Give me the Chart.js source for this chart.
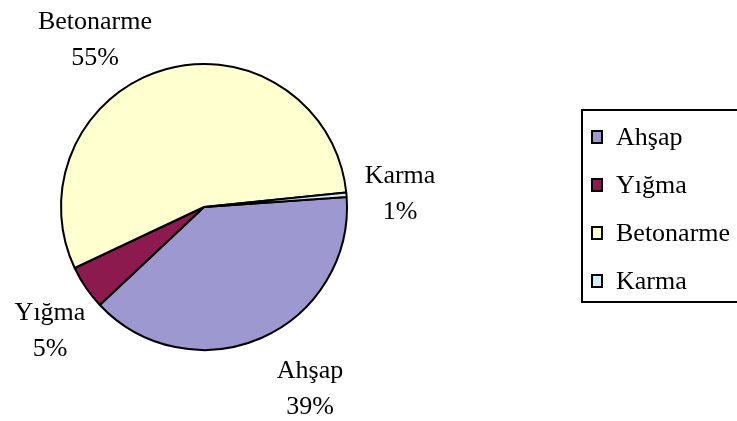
<!DOCTYPE html>
<html>
<head>
<meta charset="utf-8">
<script src="https://cdn.jsdelivr.net/npm/chart.js@4/dist/chart.umd.min.js"></script>
<style>
  html, body { margin: 0; padding: 0; background: #ffffff; }
  #wrap { width: 737px; height: 421px; }
</style>
</head>
<body>
<div id="wrap"><canvas id="chart" width="737" height="421"></canvas></div>
<script>
// Yapı türlerine göre dağılım (%)
const categories = ['Ahşap', 'Yığma', 'Betonarme', 'Karma'];
const shares = [39.1, 5.0, 55.4, 0.5];
const sliceColors = ['#9d98cf', '#8c1a4e', '#ffffcf', '#d5ebf5'];

// label anchors relative to pie centre: [x offset, name baseline offset]
const labelOffsets = [[106, 171], [-154, 113], [-109, -178], [196, -24]];

const serif = '"Liberation Serif", "Times New Roman", serif';

const labelsPlugin = {
    id: 'outsideLabels',
    afterDraw(chart) {
        const ctx = chart.ctx;
        const meta = chart.getDatasetMeta(0);
        const values = chart.data.datasets[0].data;
        const total = values.reduce((a, b) => a + b, 0);
        ctx.save();
        ctx.fillStyle = '#000';
        ctx.font = '26px ' + serif;
        ctx.textAlign = 'center';
        ctx.textBaseline = 'alphabetic';
        meta.data.forEach((arc, i) => {
            const cx = arc.x, cy = arc.y;
            const [dx, dy] = labelOffsets[i];
            const pct = Math.round(values[i] / total * 100) + '%';
            ctx.fillText(chart.data.labels[i], cx + dx, cy + dy);
            ctx.fillText(pct, cx + dx, cy + dy + 36);
        });
        ctx.restore();
    }
};

const legendPlugin = {
    id: 'boxLegend',
    afterDraw(chart) {
        const ctx = chart.ctx;
        const ds = chart.data.datasets[0];
        const left = 582, top = 110, bottom = 302;
        ctx.save();
        ctx.strokeStyle = '#000';
        ctx.lineWidth = 2;
        ctx.strokeRect(left, top, 200, bottom - top);
        ctx.font = '26px ' + serif;
        ctx.textBaseline = 'alphabetic';
        ctx.textAlign = 'left';
        chart.data.labels.forEach((lab, i) => {
            const base = 145 + i * 48;
            ctx.fillStyle = ds.backgroundColor[i];
            ctx.fillRect(592, base - 14, 10, 12);
            ctx.lineWidth = 2;
            ctx.strokeRect(592, base - 14, 10, 12);
            ctx.fillStyle = '#000';
            ctx.fillText(lab, 616, base);
        });
        ctx.restore();
    }
};

new Chart(document.getElementById('chart'), {
    type: 'pie',
    data: {
        labels: categories,
        datasets: [{
            data: shares,
            backgroundColor: sliceColors,
            borderColor: '#000',
            borderWidth: 2
        }]
    },
    options: {
        responsive: false,
        animation: false,
        rotation: 86,
        layout: { padding: { left: 60, right: 389, top: 62, bottom: 69 } },
        plugins: {
            legend: { display: false },
            tooltip: { enabled: false }
        }
    },
    plugins: [labelsPlugin, legendPlugin]
});
</script>
</body>
</html>
